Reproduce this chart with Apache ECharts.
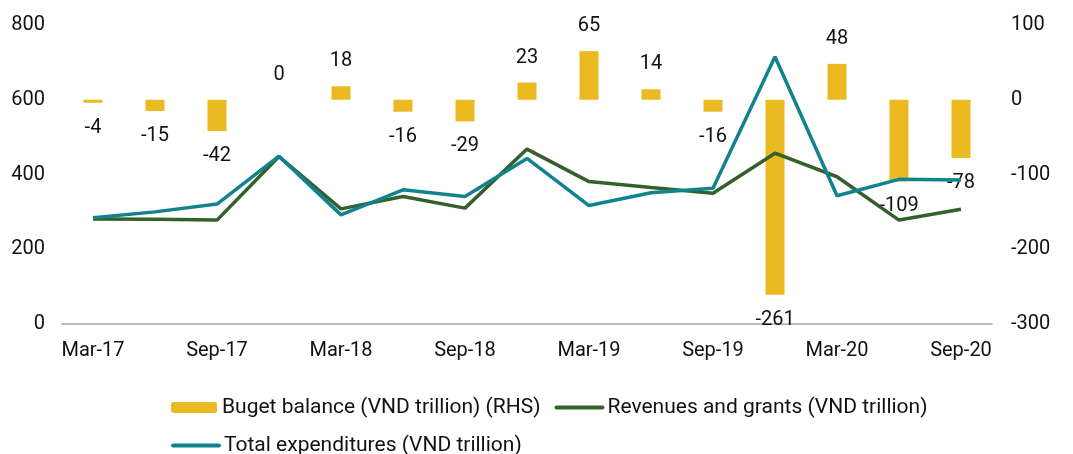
<!DOCTYPE html>
<html>
<head>
<meta charset="utf-8">
<script src="https://cdn.jsdelivr.net/npm/echarts@6/dist/echarts.min.js"></script>
<style>
  html, body { margin: 0; padding: 0; background: #fff; }
  #chart { width: 1073px; height: 454px; }
</style>
</head>
<body>
<div id="chart"></div>
<script>
// quarterly data, Mar-17 .. Sep-20
const quarters = ['Mar-17', 'Jun-17', 'Sep-17', 'Dec-17', 'Mar-18', 'Jun-18', 'Sep-18', 'Dec-18',
  'Mar-19', 'Jun-19', 'Sep-19', 'Dec-19', 'Mar-20', 'Jun-20', 'Sep-20']
const balance = [-4, -15, -42, 0, 18, -16, -29, 23, 65, 14, -16, -261, 48, -109, -78]
const revenues = [281, 280, 278, 448, 308, 341, 310, 468, 381, 365, 350, 457, 394, 278, 307]
const expenditures = [284, 300, 321, 449, 292, 359, 341, 443, 317, 351, 363, 715, 343, 387, 385]
const leftTicks = [0, 800, 200]    // min, max, interval
const rightTicks = [-300, 100, 100]

const names = ['Buget balance (VND trillion) (RHS)', 'Revenues and grants (VND trillion)', 'Total expenditures (VND trillion)']
const font = 'Roboto, "Liberation Sans", sans-serif'

const chart = echarts.init(document.getElementById('chart'))

const barData = balance.map(v => ({
  value: v,
  label: { position: v >= 0 ? 'top' : 'bottom' }
}))

// line items: hide the circle the legend puts on a line icon
const lineItem = name => ({
  name: name,
  itemStyle: { opacity: 0 },
  lineStyle: { width: 4, cap: 'round' }
})

const legendBase = {
  orient: 'horizontal',
  left: 166,
  padding: 5,
  itemWidth: 46,
  itemHeight: 11,
  itemGap: 14,
  textStyle: { fontFamily: font, fontSize: 21, color: '#111' }
}

chart.setOption({
  animation: false,
  grid: { left: 62, right: 81, top: 25, bottom: 130, containLabel: false },
  legend: [
    Object.assign({}, legendBase, { top: 392, data: [names[0], lineItem(names[1])] }),
    Object.assign({}, legendBase, { top: 430, data: [lineItem(names[2])] })
  ],
  xAxis: {
    type: 'category',
    data: quarters,
    boundaryGap: true,
    axisLine: { lineStyle: { color: '#a6a6a6', width: 1.5 } },
    axisTick: { show: false },
    axisLabel: { interval: 1, color: '#111', fontFamily: font, fontSize: 20, margin: 17 }
  },
  yAxis: [
    {
      type: 'value',
      min: leftTicks[0], max: leftTicks[1], interval: leftTicks[2],
      splitLine: { show: false },
      axisLine: { show: false },
      axisTick: { show: false },
      axisLabel: { color: '#111', fontFamily: font, fontSize: 20, margin: 17 }
    },
    {
      type: 'value',
      min: rightTicks[0], max: rightTicks[1], interval: rightTicks[2],
      position: 'right',
      splitLine: { show: false },
      axisLine: { show: false },
      axisTick: { show: false },
      axisLabel: { color: '#111', fontFamily: font, fontSize: 20, margin: 19 }
    }
  ],
  series: [
    {
      name: names[0],
      type: 'bar',
      yAxisIndex: 1,
      barWidth: 19,
      itemStyle: { color: '#EBB921' },
      label: { show: true, distance: 15, color: '#111', fontFamily: font, fontSize: 20 },
      data: barData
    },
    {
      name: names[1],
      type: 'line',
      yAxisIndex: 0,
      symbol: 'none',
      lineStyle: { color: '#34602B', width: 3.5 },
      itemStyle: { color: '#34602B' },
      data: revenues
    },
    {
      name: names[2],
      type: 'line',
      yAxisIndex: 0,
      symbol: 'none',
      lineStyle: { color: '#11838F', width: 3.5 },
      itemStyle: { color: '#11838F' },
      data: expenditures
    }
  ]
})
</script>
</body>
</html>
